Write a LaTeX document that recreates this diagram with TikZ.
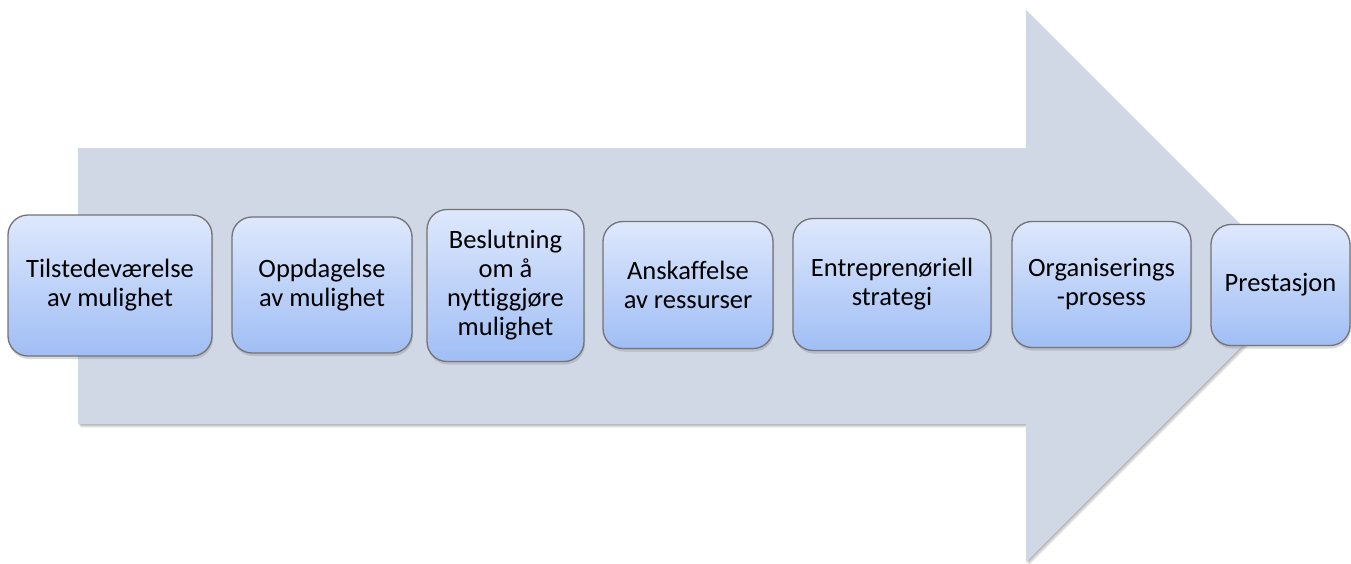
\documentclass[tikz,border=0pt]{standalone}
\usepackage{fontspec}
\setmainfont{Carlito}[Ligatures=NoCommon]
\usetikzlibrary{shadows}
\definecolor{arrowfill}{RGB}{208,215,229}
\definecolor{boxtop}{RGB}{222,232,252}
\definecolor{boxbot}{RGB}{160,190,245}
\definecolor{boxline}{RGB}{115,115,120}
\begin{document}
\begin{tikzpicture}[x=1pt,y=-1pt,
  stepbox/.style={draw=boxline, line width=1.3pt, rounded corners=20pt,
    top color=boxtop, bottom color=boxbot, align=center,
    font=\fontsize{26.5}{29}\selectfont, inner sep=0pt,
    drop shadow={shadow xshift=1pt, shadow yshift=-3pt, opacity=0.3}},
  arrowshadow/.style={fill=black, opacity=0.08}]
\useasboundingbox (0,0) rectangle (1351,563);
% big arrow with soft shadow
\foreach \s in {1,2,3,4}{
  \fill[arrowshadow, shift={(\s*0.7,\s*0.9)}] (78,148) -- (1026,148) -- (1026,10) -- (1302,286) -- (1026,562) -- (1026,424) -- (78,424) -- cycle;
}
\fill[arrowfill] (78,148) -- (1026,148) -- (1026,10) -- (1302,286) -- (1026,562) -- (1026,424) -- (78,424) -- cycle;
% step boxes
\node[stepbox, minimum width=204pt, minimum height=141pt] (b1) at (110,285.5) {Tilstedeværelse\\av mulighet};
\node[stepbox, minimum width=180pt, minimum height=136pt] (b2) at (322,285) {Oppdagelse\\av mulighet};
\node[stepbox, minimum width=157pt, minimum height=152pt] (b3) at (505.5,285.5) {Beslutning\\om å\\nyttiggjøre\\mulighet};
\node[stepbox, minimum width=170pt, minimum height=127pt] (b4) at (688,285) {Anskaffelse\\av ressurser};
\node[stepbox, minimum width=198pt, minimum height=132pt] (b5) at (892,284.5) {Entreprenøriell\\strategi};
\node[stepbox, minimum width=179pt, minimum height=126pt] (b6) at (1101.5,284.5) {Organiserings\\-prosess};
\node[stepbox, minimum width=139pt, minimum height=121pt] (b7) at (1280.5,285) {Prestasjon};
\end{tikzpicture}
\end{document}
